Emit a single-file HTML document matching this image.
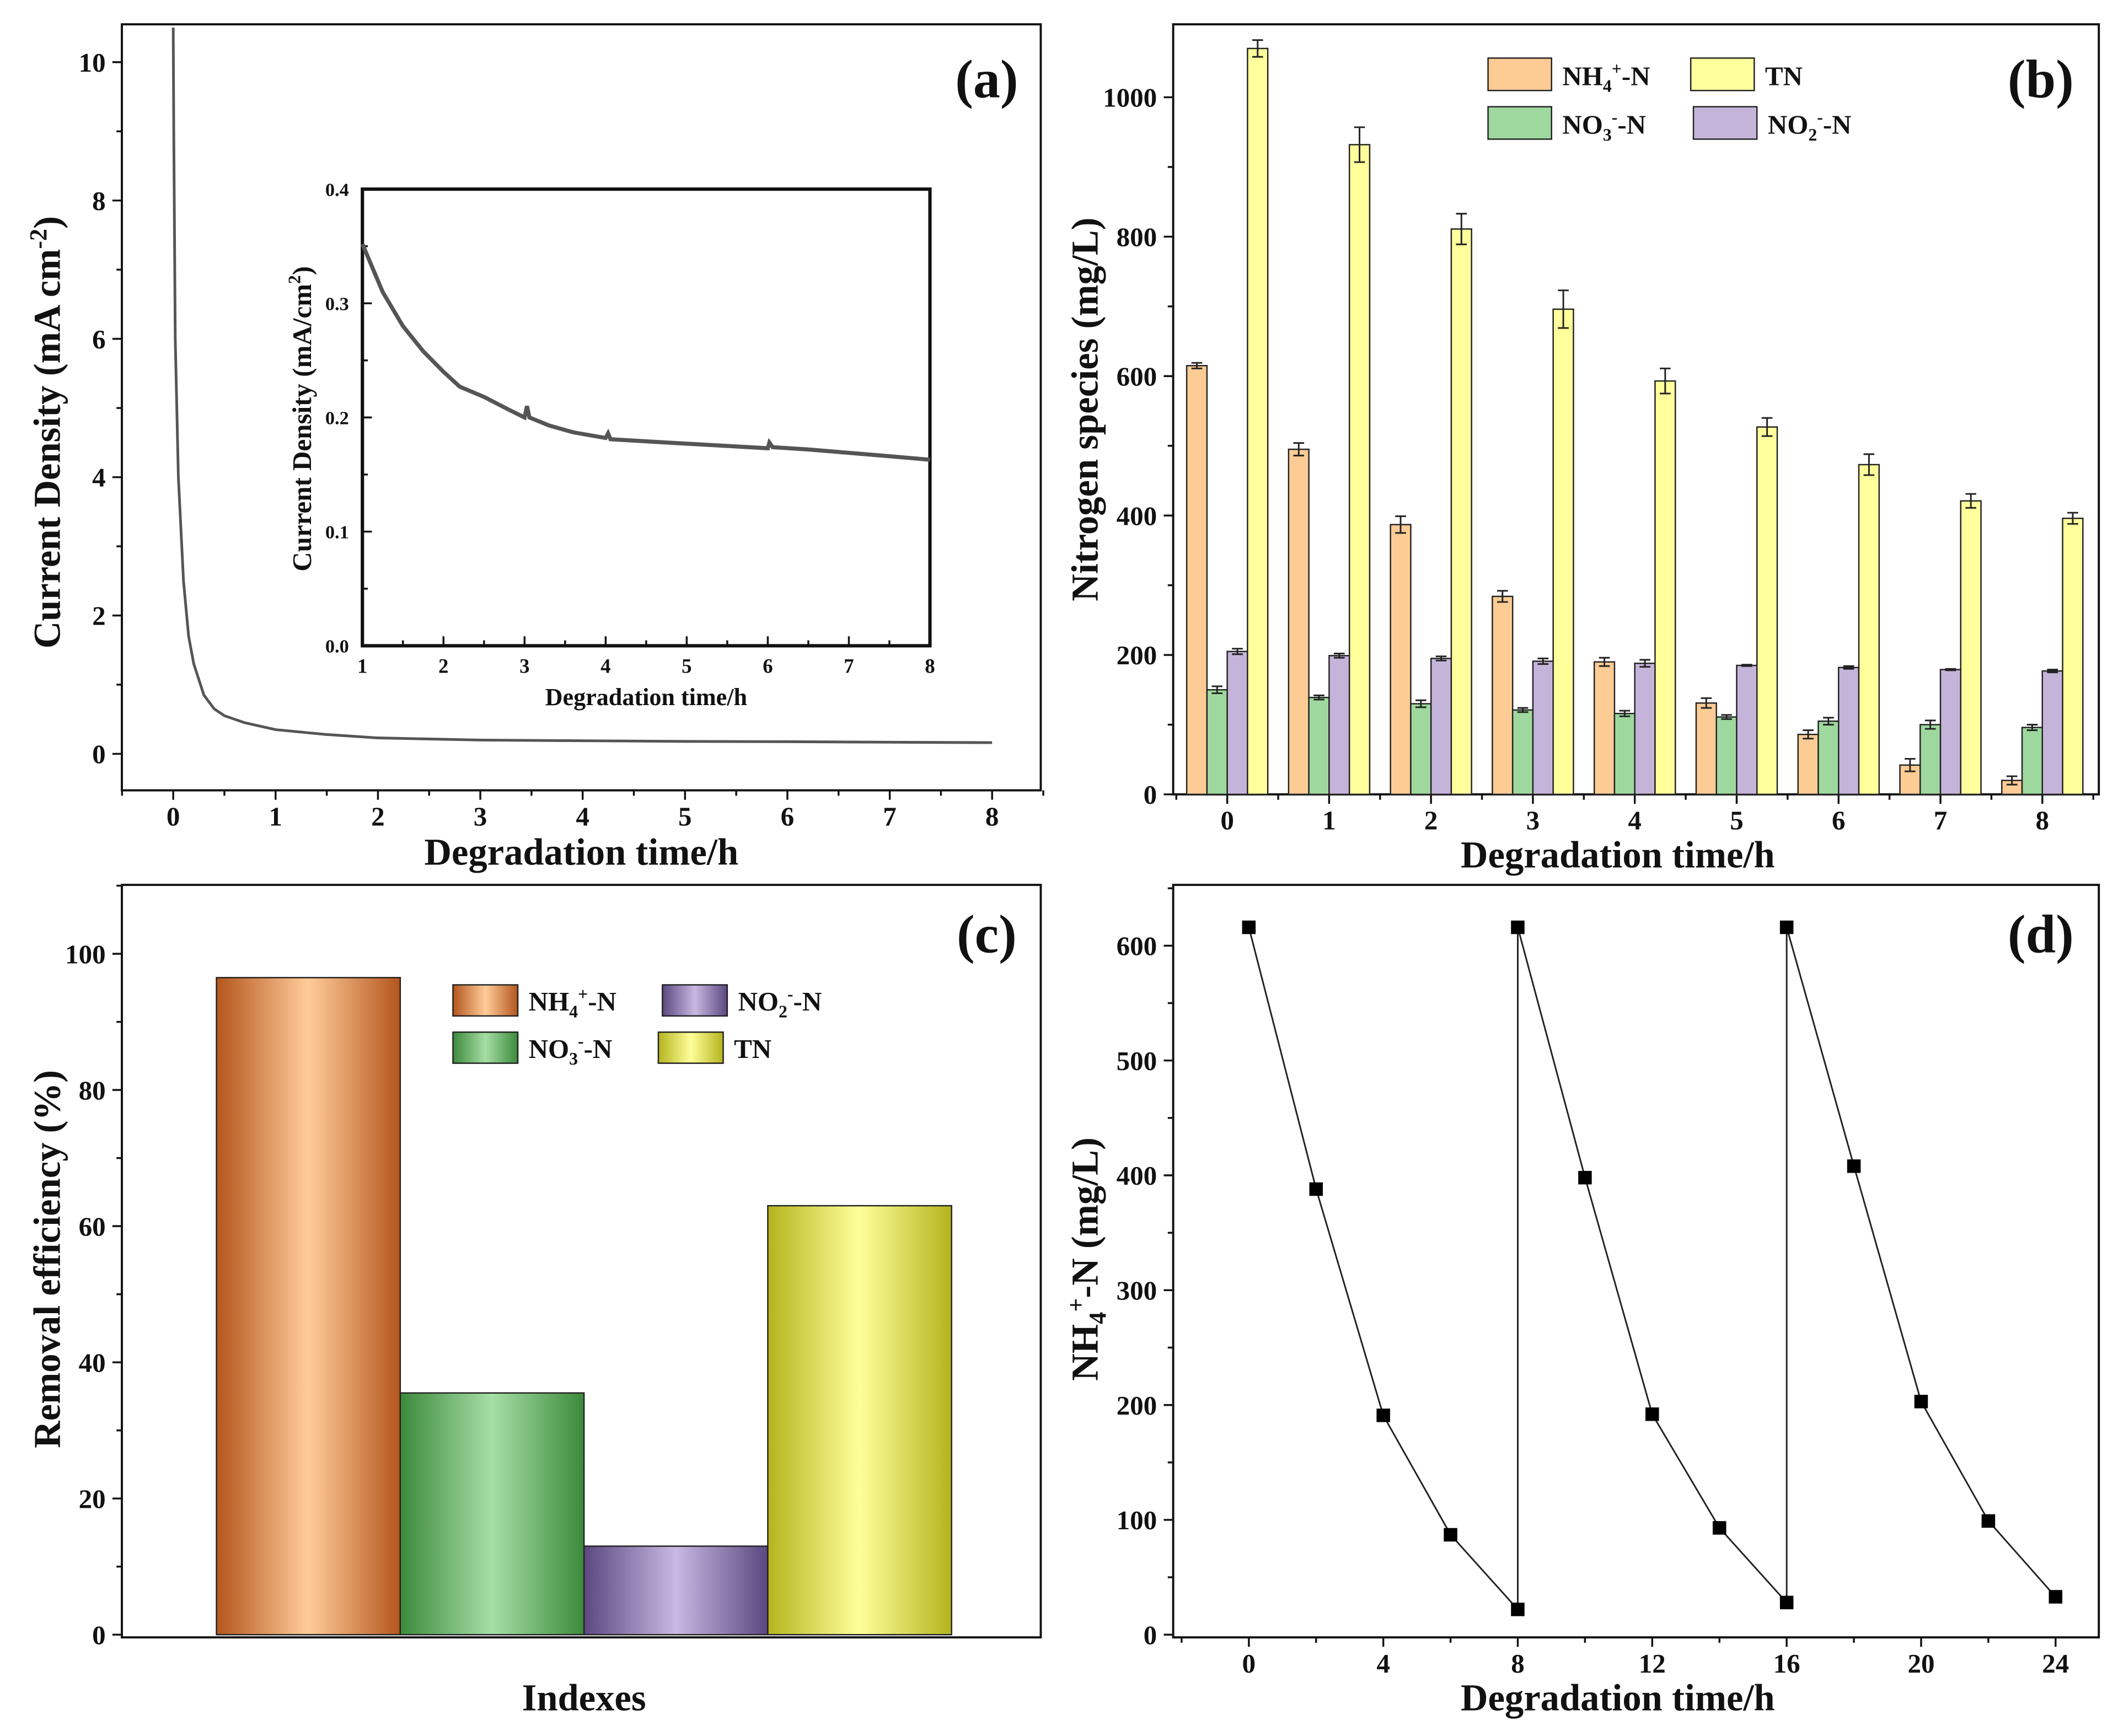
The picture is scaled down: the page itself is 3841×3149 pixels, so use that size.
<!DOCTYPE html>
<html><head><meta charset="utf-8"><style>
html,body{margin:0;padding:0;background:#fff}
svg{display:block}
text{font-family:"Liberation Serif",serif;font-weight:bold;fill:#111}
</style></head><body>
<svg id="fig" width="3841" height="3149" viewBox="0 0 1567 1285" xmlns="http://www.w3.org/2000/svg">
<defs>
<linearGradient id="gO" x1="0" x2="1" y1="0" y2="0"><stop offset="0" stop-color="#b4561c"/><stop offset="0.5" stop-color="#ffcc9a"/><stop offset="1" stop-color="#b4561c"/></linearGradient>
<linearGradient id="gG" x1="0" x2="1" y1="0" y2="0"><stop offset="0" stop-color="#3c8a3c"/><stop offset="0.5" stop-color="#a6dea6"/><stop offset="1" stop-color="#3c8a3c"/></linearGradient>
<linearGradient id="gP" x1="0" x2="1" y1="0" y2="0"><stop offset="0" stop-color="#5a4880"/><stop offset="0.5" stop-color="#c8b8e2"/><stop offset="1" stop-color="#5a4880"/></linearGradient>
<linearGradient id="gY" x1="0" x2="1" y1="0" y2="0"><stop offset="0" stop-color="#b4b41e"/><stop offset="0.5" stop-color="#ffff9a"/><stop offset="1" stop-color="#b4b41e"/></linearGradient>
</defs>
</svg>
<script>
// ---- data ----
const aTime=[0,0.005,0.02,0.05,0.1,0.15,0.2,0.3,0.4,0.5,0.7,1,1.5,2,3,4,5,6,7,8];
const aCurrent=[10.5,9,6,4,2.5,1.7,1.3,0.85,0.65,0.55,0.45,0.35,0.28,0.23,0.2,0.19,0.18,0.175,0.168,0.163];
const insetTime=[1,1.25,1.5,1.75,2,2.2,2.5,2.8,3,3.03,3.06,3.3,3.6,4,4.03,4.06,4.5,5,5.5,6,6.02,6.06,6.5,7,7.5,8];
const insetCurrent=[0.352,0.31,0.28,0.258,0.24,0.227,0.218,0.207,0.2,0.21,0.2,0.193,0.187,0.182,0.186,0.181,0.179,0.177,0.175,0.173,0.178,0.174,0.172,0.169,0.166,0.163];
const bCategories=[0,1,2,3,4,5,6,7,8];
const bNH4=[615,495,387,284,190,131,86,42,20];
const bNH4Err=[4,9,12,8,6,7,6,9,6];
const bNO3=[150,139,130,121,116,111,105,100,96];
const bNO3Err=[5,3,5,3,4,3,5,6,4];
const bNO2=[205,199,195,191,188,185,182,179,177];
const bNO2Err=[4,3,3,4,5,1,2,1,2];
const bTN=[1070,932,811,696,593,527,473,421,396];
const bTNErr=[12,25,22,27,18,13,15,10,8];
const cLabels=["NH4","NO3","NO2","TN"];
const cValues=[96.5,35.5,13,63];
const dTime=[0,2,4,6,8,8,10,12,14,16,16,18,20,22,24];
const dNH4=[616,388,191,87,22,616,398,192,93,28,616,408,203,99,33];

const NS="http://www.w3.org/2000/svg";
const svg=document.getElementById('fig');
function el(tag,attrs,parent){const e=document.createElementNS(NS,tag);for(const k in attrs)e.setAttribute(k,attrs[k]);(parent||svg).appendChild(e);return e;}
function txt(x,y,s,size,anchor,parent,rot){const t=el('text',{x:x,y:y,'font-size':size,'text-anchor':anchor||'middle'},parent);if(rot)t.setAttribute('transform','rotate(-90 '+x+' '+y+')');t.innerHTML=s;return t;}
function grp(name){const g=el('g',{});return g;}
function frame(g,x0,y0,x1,y1,w){el('rect',{x:x0,y:y0,width:x1-x0,height:y1-y0,fill:'none',stroke:'#111','stroke-width':w||1.6},g);}

// ---------- Panel a ----------
(function(){
 const g=grp('panel-a');
 const X=t=>128+t*75.75, Y=v=>558-v*51.2;
 frame(g,90,18,770,585);
 for(let v=0;v<=10;v+=1){const y=Y(v);el('line',{x1:90,x2:v%2?86:83,y1:y,y2:y,stroke:'#111','stroke-width':1.4},g);if(v%2==0)txt(78,y+7,v,20,'end',g);}
 for(let t=-0.5;t<=8.5;t+=0.5){const x=X(t);const maj=Number.isInteger(t);el('line',{x1:x,x2:x,y1:585,y2:maj?592:589,stroke:'#111','stroke-width':1.4},g);if(maj&&t>=0&&t<=8)txt(x,611,t,20,'middle',g);}
 const xt=txt(430,640,'Degradation time/h',28,'middle',g);
 const yt=txt(44,320,'Current Density (mA cm<tspan dy="-10" font-size="18">-2</tspan><tspan dy="10">)</tspan>',28,'middle',g,true);
 let d='';aTime.forEach((t,i)=>{d+=(i?'L':'M')+X(t).toFixed(1)+','+Math.max(18,Y(aCurrent[i])).toFixed(1);});
 const p=el('path',{d:d,fill:'none',stroke:'#555','stroke-width':2},g);
 txt(730,72,'(a)',40,'middle',g);
 // inset
 const gi=grp('inset-chart');g.appendChild(gi);
 const IX=t=>268+(t-1)*60, IY=v=>478-v*845;
 frame(gi,268,140,688,478,2.5);
 for(let v=0;v<=0.4001;v+=0.05){const y=IY(v);const maj=Math.round(v*100)%10==0;el('line',{x1:268,x2:maj?275:272,y1:y,y2:y,stroke:'#111','stroke-width':1.4},gi);if(maj)txt(258,y+5,v.toFixed(1),14,'end',gi);}
 for(let t=1;t<=8.001;t+=0.5){const x=IX(t);const maj=Number.isInteger(t);el('line',{x1:x,x2:x,y1:478,y2:maj?471:474,stroke:'#111','stroke-width':1.4},gi);if(maj)txt(x,498,t,15,'middle',gi);}
 txt(478,522,'Degradation time/h',18,'middle',gi);
 txt(230,310,'Current Density (mA/cm<tspan dy="-8" font-size="13">2</tspan><tspan dy="8">)</tspan>',20,'middle',gi,true);
 let d2='';insetTime.forEach((t,i)=>{d2+=(i?'L':'M')+IX(t).toFixed(1)+','+IY(insetCurrent[i]).toFixed(1);});
 const p2=el('path',{d:d2,fill:'none',stroke:'#555','stroke-width':3},gi);
})();

// ---------- Panel b ----------
(function(){
 const g=grp('panel-b');
 const X=c=>908+c*75.4, Y=v=>588-v*0.516;
 frame(g,868,18,1553,588);
 for(let v=0;v<=1000;v+=100){const y=Y(v);el('line',{x1:868,x2:v%200?864:861,y1:y,y2:y,stroke:'#111','stroke-width':1.4},g);if(v%200==0)txt(856,y+7,v,20,'end',g);}
 for(let c=-0.5;c<=8.5;c+=0.5){const x=X(c);const maj=Number.isInteger(c);el('line',{x1:x,x2:x,y1:588,y2:maj?595:592,stroke:'#111','stroke-width':1.4},g);}
 bCategories.forEach((c,i)=>txt(X(i),614,c,20,'middle',g));
 txt(1197,642,'Degradation time/h',28,'middle',g);
 txt(812,303,'Nitrogen species (mg/L)',28,'middle',g,true);
 const series=[[bNH4,bNH4Err,'#fdcb94',-22.5,'nh4'],[bNO3,bNO3Err,'#9ed89e',-7.5,'no3'],[bNO2,bNO2Err,'#c5b4da',7.5,'no2'],[bTN,bTNErr,'#ffff9c',22.5,'tn']];
 series.forEach(s=>{s[0].forEach((v,i)=>{const cx=X(i)+s[3];const r=el('rect',{x:cx-7.5,y:Y(v),width:15,height:Y(0)-Y(v),fill:s[2],stroke:'#222','stroke-width':1},g);
  
  
  const e=s[1][i];el('path',{d:`M${cx},${Y(v+e)}V${Y(v-e)}M${cx-4},${Y(v+e)}H${cx+4}M${cx-4},${Y(v-e)}H${cx+4}`,stroke:'#222','stroke-width':1.2,fill:'none'},g);});});
 const lg=grp('legend-b');g.appendChild(lg);
 const items=[[1101,43,'#fdcb94','NH<tspan dy="5" font-size="13">4</tspan><tspan dy="-13" font-size="13">+</tspan><tspan dy="8">-N</tspan>'],[1251,43,'#ffff9c','TN'],[1101,79,'#9ed89e','NO<tspan dy="5" font-size="13">3</tspan><tspan dy="-13" font-size="13">-</tspan><tspan dy="8">-N</tspan>'],[1253,79,'#c5b4da','NO<tspan dy="5" font-size="13">2</tspan><tspan dy="-13" font-size="13">-</tspan><tspan dy="8">-N</tspan>']];
 items.forEach(it=>{el('rect',{x:it[0],y:it[1],width:47,height:24,fill:it[2],stroke:'#222','stroke-width':1},lg);txt(it[0]+55,it[1]+20,it[3],20,'start',lg);});
 txt(1510,72,'(b)',40,'middle',g);
})();

// ---------- Panel c ----------
(function(){
 const g=grp('panel-c');
 const Y=v=>1210-v*5.04;
 frame(g,90,655,770,1212);
 for(let v=0;v<=110;v+=10){const y=Y(v);el('line',{x1:90,x2:v%20?86:83,y1:y,y2:y,stroke:'#111','stroke-width':1.4},g);if(v%20==0&&v<=100)txt(78,y+7,v,20,'end',g);}
 const fills=['url(#gO)','url(#gG)','url(#gP)','url(#gY)'];
 cValues.forEach((v,i)=>{const x=160+i*136;const r=el('rect',{x:x,y:Y(v),width:136,height:Y(0)-Y(v),fill:fills[i],stroke:'#222','stroke-width':1},g);
  
  });
 txt(432,1266,'Indexes',28,'middle',g);
 txt(44,932,'Removal efficiency (%)',28,'middle',g,true);
 const lg=grp('legend-c');g.appendChild(lg);
 const items=[[335,729,'url(#gO)','NH<tspan dy="5" font-size="13">4</tspan><tspan dy="-13" font-size="13">+</tspan><tspan dy="8">-N</tspan>'],[490,729,'url(#gP)','NO<tspan dy="5" font-size="13">2</tspan><tspan dy="-13" font-size="13">-</tspan><tspan dy="8">-N</tspan>'],[335,764,'url(#gG)','NO<tspan dy="5" font-size="13">3</tspan><tspan dy="-13" font-size="13">-</tspan><tspan dy="8">-N</tspan>'],[487,764,'url(#gY)','TN']];
 items.forEach(it=>{el('rect',{x:it[0],y:it[1],width:48,height:23,fill:it[2],stroke:'#222','stroke-width':1},lg);txt(it[0]+56,it[1]+19,it[3],20,'start',lg);});
 txt(730,705,'(c)',40,'middle',g);
})();

// ---------- Panel d ----------
(function(){
 const g=grp('panel-d');
 const X=t=>924+t*24.875, Y=v=>1210-v*0.85;
 frame(g,868,655,1553,1212);
 for(let v=0;v<=650;v+=50){const y=Y(v);el('line',{x1:868,x2:v%100?864:861,y1:y,y2:y,stroke:'#111','stroke-width':1.4},g);if(v%100==0&&v<=600)txt(856,y+7,v,20,'end',g);}
 for(let t=-2;t<=26;t+=2){const x=X(t);const maj=t%4==0;el('line',{x1:x,x2:x,y1:1212,y2:maj?1219:1216,stroke:'#111','stroke-width':1.4},g);if(maj&&t>=0&&t<=24)txt(x,1238,t,20,'middle',g);}
 txt(1197,1266,'Degradation time/h',28,'middle',g);
 txt(812,932,'NH<tspan dy="6" font-size="18">4</tspan><tspan dy="-16" font-size="18">+</tspan><tspan dy="10">-N (mg/L)</tspan>',28,'middle',g,true);
 let d='';dTime.forEach((t,i)=>{d+=(i?'L':'M')+X(t).toFixed(1)+','+Y(dNH4[i]).toFixed(1);});
 el('path',{d:d,fill:'none',stroke:'#222','stroke-width':1.2},g);
 dTime.forEach((t,i)=>{const m=el('rect',{x:X(t)-5,y:Y(dNH4[i])-5,width:10,height:10,fill:'#000'},g);
  
  });
 txt(1510,705,'(d)',40,'middle',g);
})();
</script>
</body></html>
